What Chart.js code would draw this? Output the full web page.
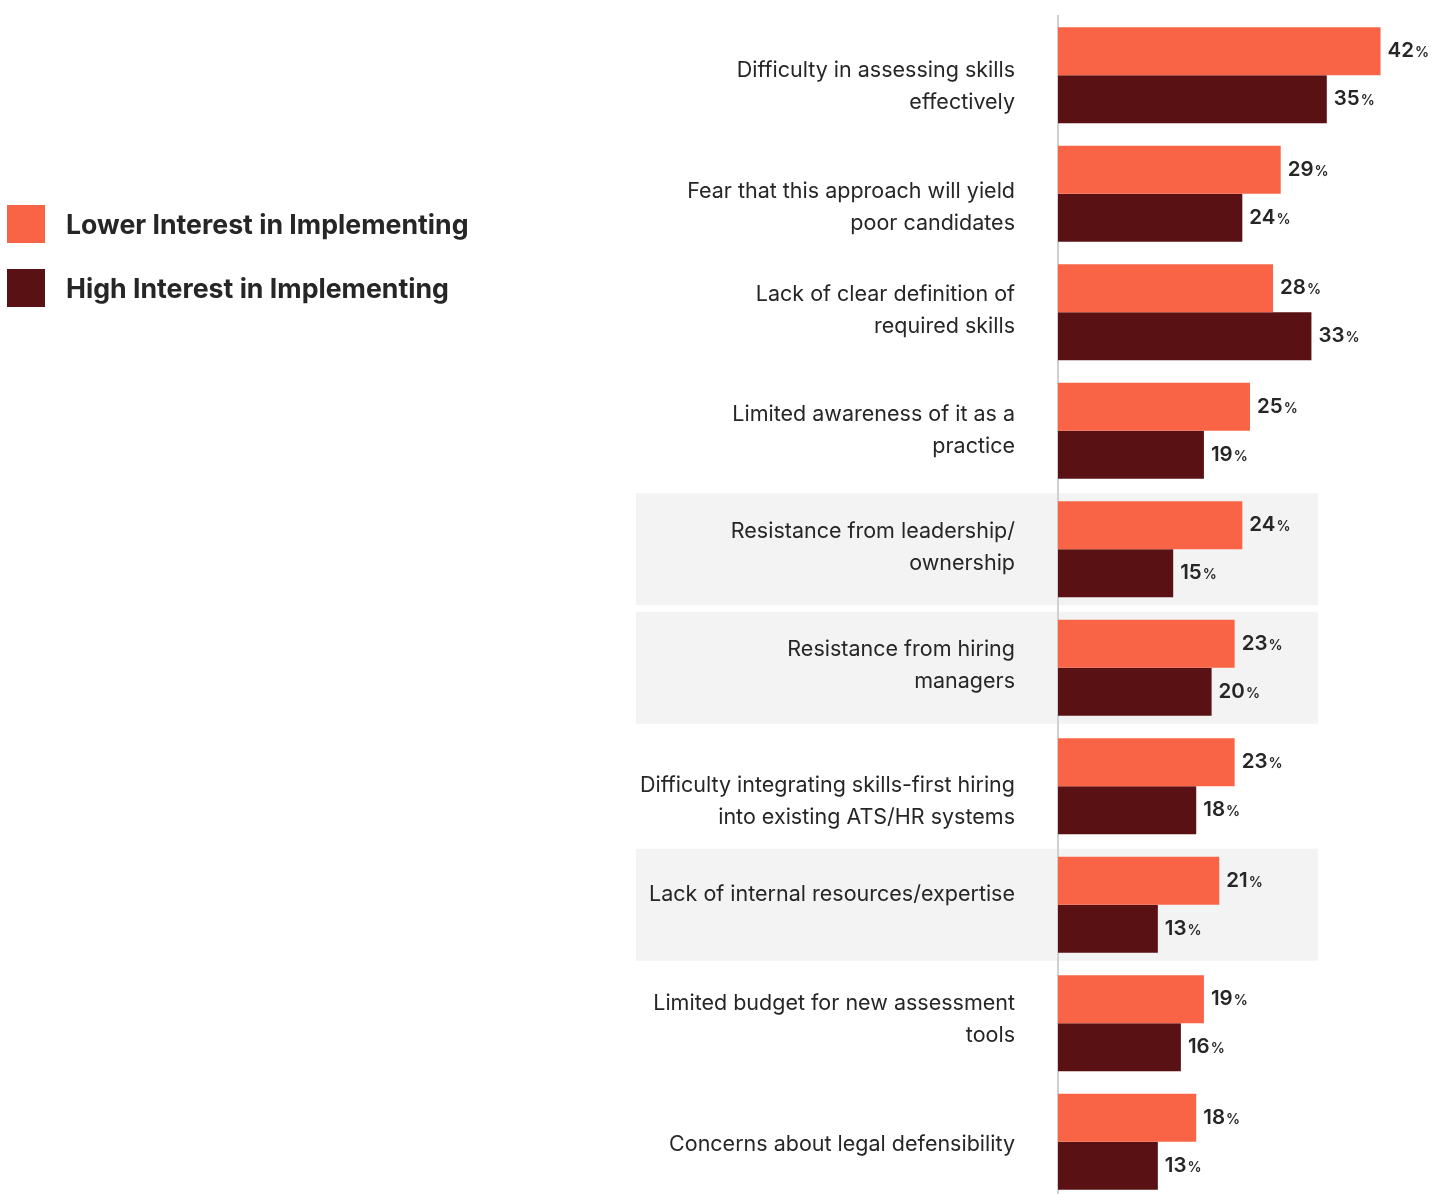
<!DOCTYPE html>
<html>
<head>
<meta charset="utf-8">
<script src="https://cdn.jsdelivr.net/npm/chart.js@4/dist/chart.umd.min.js"></script>
<style>
  html, body { margin: 0; padding: 0; background: #fff; overflow: hidden; }
  #wrap { position: absolute; left: 0; top: 0; width: 1446px; height: 1201px; }
  .legend { position: absolute; left: 7px; font-family: Inter, "Noto Sans", sans-serif; font-weight: 700; font-size: 26.7px; color: #262626; display: flex; align-items: center; }
  .legend .sw { width: 38px; height: 38px; margin-right: 21px; }
</style>
</head>
<body>
<div id="wrap"><canvas id="c"></canvas></div>
<div class="legend" style="top:205px"><span class="sw" style="background:#F96446"></span><span id="lg0"></span></div>
<div class="legend" style="top:269px"><span class="sw" style="background:#5A1114"></span><span id="lg1"></span></div>
<script>
const categories = [
  ["Difficulty in assessing skills", "effectively"],
  ["Fear that this approach will yield", "poor candidates"],
  ["Lack of clear definition of", "required skills"],
  ["Limited awareness of it as a", "practice"],
  ["Resistance from leadership/", "ownership"],
  ["Resistance from hiring", "managers"],
  ["Difficulty integrating skills-first hiring", "into existing ATS/HR systems"],
  ["Lack of internal resources/expertise"],
  ["Limited budget for new assessment", "tools"],
  ["Concerns about legal defensibility"]
];
const seriesNames = ["Lower Interest in Implementing", "High Interest in Implementing"];
const lowerInterest = [42, 29, 28, 25, 24, 23, 23, 21, 19, 18];
const highInterest  = [35, 24, 33, 19, 15, 20, 18, 13, 16, 13];
const highlightedRows = [4, 5, 7];

document.getElementById('lg0').textContent = seriesNames[0];
document.getElementById('lg1').textContent = seriesNames[1];

const FONT = 'Inter, "Noto Sans", sans-serif';

const bandPlugin = {
  id: 'bands',
  beforeDraw(chart, args, opts) {
    const ctx = chart.ctx, y = chart.scales.y;
    ctx.save();
    ctx.fillStyle = opts.color;
    highlightedRows.forEach(i => {
      const cy = y.getPixelForValue(i);
      ctx.fillRect(opts.left, cy - opts.height / 2, opts.right - opts.left, opts.height);
    });
    ctx.restore();
  }
};

// category labels drawn with small per-row vertical nudges (style), right-aligned next to the axis
const catLabelPlugin = {
  id: 'catLabels',
  beforeDatasetsDraw(chart, args, opts) {
    const ctx = chart.ctx, y = chart.scales.y;
    ctx.save();
    ctx.fillStyle = opts.color;
    ctx.font = opts.size + 'px ' + FONT;
    ctx.textAlign = 'right';
    ctx.textBaseline = 'middle';
    const xr = chart.chartArea.left - opts.padding;
    chart.data.labels.forEach((lab, i) => {
      const lines = Array.isArray(lab) ? lab : [lab];
      const cy = y.getPixelForValue(i) + (opts.nudge[i] || 0);
      lines.forEach((ln, k) => {
        ctx.fillText(ln, xr, cy + (k - (lines.length - 1) / 2) * opts.lineHeight);
      });
    });
    ctx.restore();
  }
};

const valueLabelPlugin = {
  id: 'valueLabels',
  afterDatasetsDraw(chart, args, opts) {
    const ctx = chart.ctx;
    ctx.save();
    ctx.fillStyle = opts.color;
    ctx.textBaseline = 'middle';
    ctx.textAlign = 'left';
    chart.data.datasets.forEach((ds, di) => {
      const meta = chart.getDatasetMeta(di);
      meta.data.forEach((bar, i) => {
        const num = String(ds.data[i]);
        let x = bar.x + opts.gap;
        const yy = bar.y;
        ctx.font = '600 20.5px ' + FONT;
        ctx.fillText(num, x, yy);
        x += ctx.measureText(num).width + 1;
        ctx.font = '600 14px ' + FONT;
        ctx.fillText('%', x, yy + 2);
      });
    });
    ctx.restore();
  }
};

new Chart(document.getElementById('c'), {
  type: 'bar',
  data: {
    labels: categories,
    datasets: [
      { label: seriesNames[0], data: lowerInterest, backgroundColor: '#F96446' },
      { label: seriesNames[1], data: highInterest, backgroundColor: '#5A1114' }
    ]
  },
  options: {
    indexAxis: 'y',
    responsive: true,
    maintainAspectRatio: false,
    animation: false,
    layout: { padding: { top: 16, right: 4, bottom: 0, left: 0 } },
    datasets: { bar: { categoryPercentage: 0.81, barPercentage: 1.0, borderWidth: 0 } },
    scales: {
      x: { display: false, min: 0, max: 50 },
      y: {
        afterFit(scale) { scale.width = 1058; scale.paddingTop = 0; scale.paddingBottom = 0; },
        grid: { display: false, drawTicks: false },
        border: { display: true, color: '#D0D0D0', width: 2 },
        ticks: { display: false }
      }
    },
    plugins: {
      legend: { display: false },
      tooltip: { enabled: false },
      bands: { color: '#F3F3F3', left: 636, right: 1318, height: 112 },
      catLabels: { color: '#262626', size: 21.5, lineHeight: 32, padding: 43,
                   nudge: [11, 14, -2, 0, -2, -2, 15, -10, -4, 3] },
      valueLabels: { color: '#262626', gap: 7 }
    }
  },
  plugins: [bandPlugin, catLabelPlugin, valueLabelPlugin]
});
</script>
</body>
</html>
